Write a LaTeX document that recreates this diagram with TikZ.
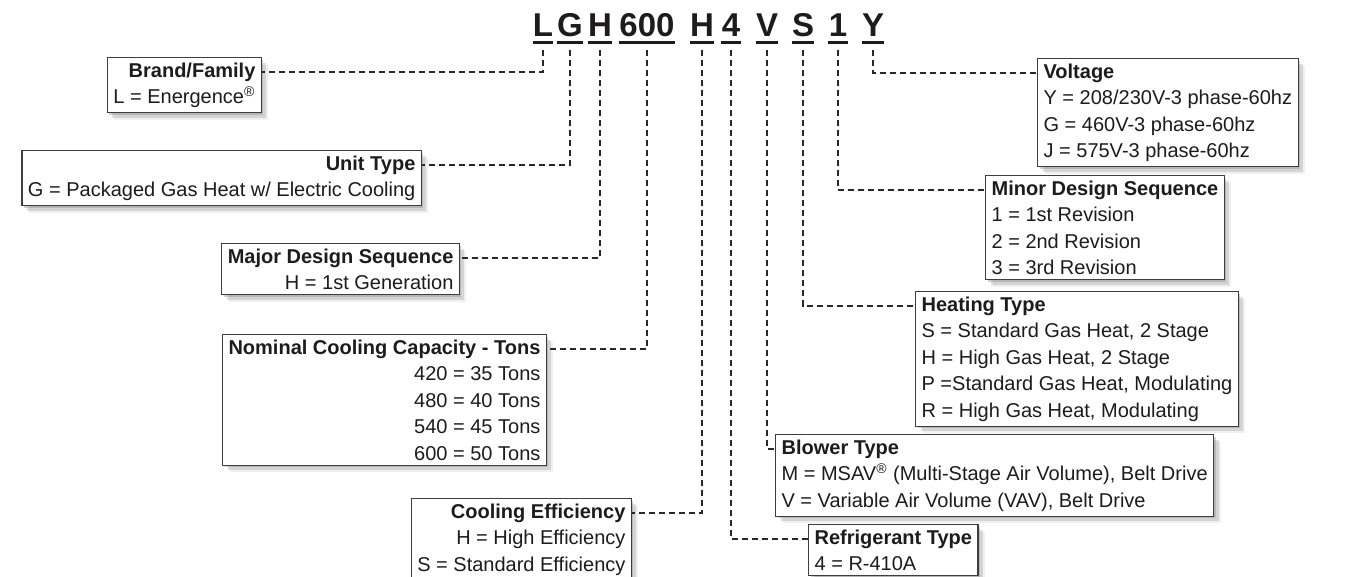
\documentclass[tikz,border=0pt]{standalone}
\usepackage{fontspec}
\setmainfont{Liberation Sans}
\usetikzlibrary{shadows}
\definecolor{inkc}{RGB}{30,27,28}
\definecolor{leadc}{RGB}{40,40,40}

\begin{document}
\begin{tikzpicture}[x=0.5pt, y=-0.5pt,
    code/.style={font=\fontsize{16.5}{18}\selectfont\bfseries, text=inkc,
      inner xsep=0pt, inner ysep=2.5pt, text depth=0pt},
    uline/.style={line width=1.3pt, inkc},
    box/.style={draw=inkc!85, line width=0.6pt, fill=white, text=inkc,
      font=\fontsize{10}{13.25}\selectfont, inner xsep=3pt, inner ysep=2.5pt,
      drop shadow={shadow xshift=1pt, shadow yshift=-1pt, opacity=0.35},
      drop shadow={shadow xshift=2.5pt, shadow yshift=-2.5pt, opacity=0.25},
      drop shadow={shadow xshift=3.5pt, shadow yshift=-3.5pt, opacity=0.12}},
    lbox/.style={box, align=right, anchor=north east},
    rbox/.style={box, align=left, anchor=north west},
    lead/.style={dash pattern=on 3pt off 2pt, line width=1pt, leadc,
      shorten <=4pt}]
  \useasboundingbox (0,0) rectangle (1356,577);
  % model number
  \foreach \n/\x/\t in {cL/543/L, cG/570/G, cH/600/H, cCap/647/600, cEff/702/H,
      cRef/731/4, cBlow/767/V, cHeat/803/S, cMin/838/1, cVolt/873/Y} {
    \node[code, anchor=base] (\n) at (\x,37) {\t};
    \draw[uline] (\n.south west) -- (\n.south east);
  }
  % left column
  \node[lbox] (brand) at (262,57) {\textbf{Brand/Family}\\L = Energence\textsuperscript{\textregistered}};
  \node[lbox] (unit) at (422,150) {\textbf{Unit Type}\\G = Packaged Gas Heat w/ Electric Cooling};
  \node[lbox] (major) at (460,243) {\textbf{Major Design Sequence}\\H = 1st Generation};
  \node[lbox] (cap) at (547,334) {\textbf{Nominal Cooling Capacity - Tons}\\420 = 35 Tons\\480 = 40 Tons\\540 = 45 Tons\\600 = 50 Tons};
  \node[lbox] (eff) at (632,498) {\textbf{Cooling Efficiency}\\H = High Efficiency\\S = Standard Efficiency};
  % right column
  \node[rbox] (volt) at (1037,58) {\textbf{Voltage}\\Y = 208/230V-3 phase-60hz\\G = 460V-3 phase-60hz\\J = 575V-3 phase-60hz};
  \node[rbox] (minor) at (985,175) {\textbf{Minor Design Sequence}\\1 = 1st Revision\\2 = 2nd Revision\\3 = 3rd Revision};
  \node[rbox] (heat) at (915,291) {\textbf{Heating Type}\\S = Standard Gas Heat, 2 Stage\\H = High Gas Heat, 2 Stage\\P =Standard Gas Heat, Modulating\\R = High Gas Heat, Modulating};
  \node[rbox] (blow) at (775,434) {\textbf{Blower Type}\\M = MSAV\textsuperscript{\textregistered} (Multi-Stage Air Volume), Belt Drive\\V = Variable Air Volume (VAV), Belt Drive};
  \node[rbox] (refr) at (808,524) {\textbf{Refrigerant Type}\\4 = R-410A};
  % leaders
  \foreach \a/\b in {cL/brand, cG/unit, cH/major, cCap/cap, cEff/eff}
    \draw[lead] (\a.south) |- ([yshift=-7.5pt]\b.north east);
  \foreach \a/\b in {cVolt/volt, cMin/minor, cHeat/heat, cBlow/blow, cRef/refr}
    \draw[lead] (\a.south) |- ([yshift=-7.5pt]\b.north west);
\end{tikzpicture}
\end{document}
